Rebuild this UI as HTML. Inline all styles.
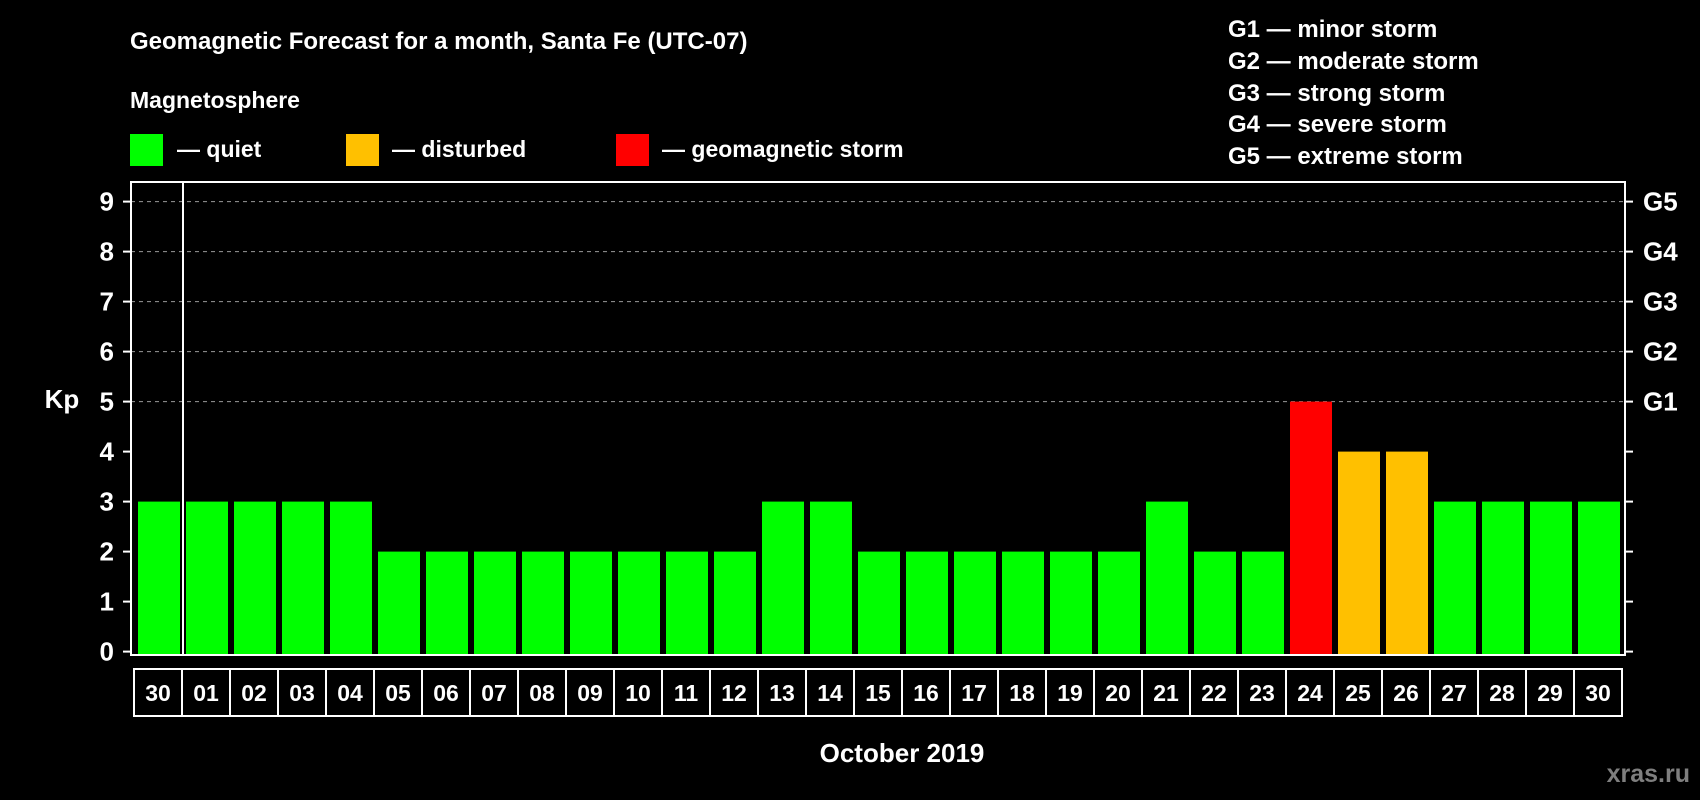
<!DOCTYPE html>
<html><head><meta charset="utf-8"><style>
html,body{margin:0;padding:0;background:#000;}
svg{display:block;font-family:"Liberation Sans",Arial,sans-serif;font-weight:bold;}
</style></head><body>
<svg id="chart" width="1700" height="800" viewBox="0 0 1700 800">
<rect width="1700" height="800" fill="#000"/>
<text x="130" y="49" fill="#fff" font-size="24">Geomagnetic Forecast for a month, Santa Fe (UTC-07)</text>
<text x="130" y="108" fill="#fff" font-size="23">Magnetosphere</text>
<g>
<rect x="130" y="134" width="33" height="32" fill="#00ff00"/>
<text x="177" y="157" fill="#fff" font-size="23">— quiet</text></g>
<g>
<rect x="346" y="134" width="33" height="32" fill="#ffc000"/>
<text x="392" y="157" fill="#fff" font-size="23">— disturbed</text></g>
<g>
<rect x="616" y="134" width="33" height="32" fill="#ff0000"/>
<text x="662" y="157" fill="#fff" font-size="23">— geomagnetic storm</text></g>
<g font-size="24" fill="#fff">
<text x="1228" y="37">G1 — minor storm</text>
<text x="1228" y="69">G2 — moderate storm</text>
<text x="1228" y="101">G3 — strong storm</text>
<text x="1228" y="132">G4 — severe storm</text>
<text x="1228" y="164">G5 — extreme storm</text>
</g>
<text x="62" y="408" fill="#fff" font-size="26" text-anchor="middle">Kp</text>
<text x="902" y="762" fill="#fff" font-size="26" text-anchor="middle">October 2019</text>
<text x="1690" y="782" fill="#7f7f7f" font-size="25" text-anchor="end">xras.ru</text>
<g id="grid"></g><g id="bars"></g><g id="axes"></g><g id="xlabels"></g>
</svg>
<script>
const days = ["30","01","02","03","04","05","06","07","08","09","10","11","12","13","14","15","16","17","18","19","20","21","22","23","24","25","26","27","28","29","30"];
const kp = [3,3,3,3,3,2,2,2,2,2,2,2,2,3,3,2,2,2,2,2,2,3,2,2,5,4,4,3,3,3,3];
const yTicks = [0,1,2,3,4,5,6,7,8,9];
const gLabels = ["G1","G2","G3","G4","G5"];
const gLevels = [5,6,7,8,9];
const NS="http://www.w3.org/2000/svg";
const L=131,R=1625,T=182,B=655,x0=134,pitch=48;
function y(v){return 651.6 - v*50;}
function xs(i){return x0+i*pitch;}
function mk(tag,attrs,parent){const e=document.createElementNS(NS,tag);for(const k in attrs)e.setAttribute(k,attrs[k]);parent.appendChild(e);return e;}
function color(v){return v>=5?"#ff0000":(v>=4?"#ffc000":"#00ff00");}
const grid=document.getElementById('grid'),bars=document.getElementById('bars'),axes=document.getElementById('axes'),xl=document.getElementById('xlabels');
gLevels.forEach((v,i)=>{
 const l=mk('line',{x1:L,x2:R,y1:y(v),y2:y(v),stroke:"#999","stroke-dasharray":"4,4","stroke-width":1},grid);
 
 
 const t=mk('text',{x:1643,y:y(v)+9,fill:"#fff","font-size":26},axes);t.textContent=gLabels[i];
 
 
});
kp.forEach((v,i)=>{
 const r=mk('rect',{x:xs(i)+4,y:y(v),width:42,height:B-y(v),fill:color(v)},bars);
 
 
});
const fr=mk('rect',{x:L,y:T,width:R-L,height:B-T,fill:"none",stroke:"#fff","stroke-width":2},axes);


const dv=mk('line',{x1:183,x2:183,y1:T,y2:B,stroke:"#fff","stroke-width":2},axes);


yTicks.forEach(v=>{
 const a=mk('line',{x1:123,x2:L,y1:y(v),y2:y(v),stroke:"#fff","stroke-width":2},axes);
 
 
 const b=mk('line',{x1:R,x2:1633,y1:y(v),y2:y(v),stroke:"#fff","stroke-width":2},axes);
 
 
 const t=mk('text',{x:114,y:y(v)+9,fill:"#fff","font-size":26,"text-anchor":"end"},axes);t.textContent=v;
 
 
});
days.forEach((d,i)=>{
 const r=mk('rect',{x:xs(i),y:669,width:pitch,height:47,fill:"none",stroke:"#fff","stroke-width":2},xl);
 
 
 const t=mk('text',{x:xs(i)+pitch/2,y:701,fill:"#fff","font-size":23,"text-anchor":"middle"},xl);t.textContent=d;
 
 
});
</script>
</body></html>
